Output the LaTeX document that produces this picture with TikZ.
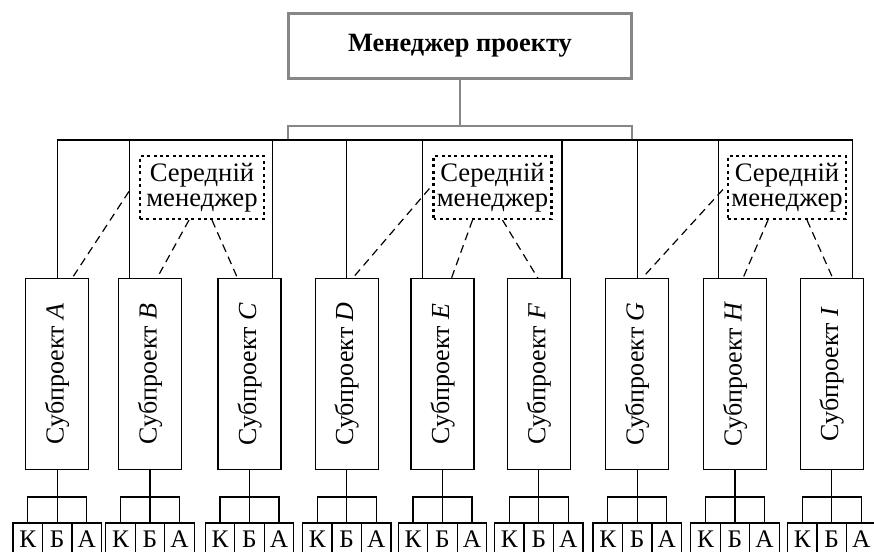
\documentclass[tikz,border=0pt]{standalone}
\usepackage{fontspec}
\setmainfont{Liberation Serif}
\usepackage{xcolor}
\usepackage{graphicx}
\usepackage{tikz}
\usetikzlibrary{calc}
\usetikzlibrary{positioning}
\tikzset{>=latex}
\definecolor{pmgrey}{RGB}{135,135,135}
\tikzstyle{wire} = [-, line width = 0.9pt, black]
\tikzstyle{greyline} = [-, line width = 2.2pt, pmgrey]
\tikzstyle{dashline} = [-, line width = 0.9pt, dash pattern = on 6pt off 4pt]
\tikzstyle{bossbox} = [rectangle, draw = pmgrey, line width = 2.2pt, minimum width = 257pt, minimum height = 48.75pt, font = \fontsize{19.8}{20}\selectfont\bfseries]
\tikzstyle{subbox} = [rectangle, draw = black, line width = 0.9pt, minimum width = 47.3pt, minimum height = 143pt, inner sep = 0, font = \fontsize{19.5}{20}\selectfont]
\tikzstyle{midbox} = [rectangle, draw = black, line width = 1.6pt, dash pattern = on 2.2pt off 2.6pt, minimum width = 88.5pt, minimum height = 47.25pt, inner sep = 1, align = center, font = \fontsize{20}{18.5}\selectfont]
\tikzstyle{cellbox} = [rectangle, draw = black, line width = 0.9pt, minimum width = 22.1pt, minimum height = 24pt, inner sep = 0, outer sep = 0, font = \fontsize{19}{20}\selectfont]

\begin{document}
\begin{tikzpicture}[x = 0.75pt, y = -0.75pt]
\useasboundingbox (0, 0) rectangle (874, 551);
\clip (0, 0) rectangle (874, 551);
\node [bossbox] (PM) at (460, 46) {Менеджер проекту};
\node [subbox] (sA) at (57.2, 374) {\rotatebox{90}{Субпроект \textit{A}}};
\node [subbox] (sB) at (150, 374) {\rotatebox{90}{Субпроект \textit{B}}};
\node [subbox] (sC) at (249.5, 374) {\rotatebox{90}{Субпроект \textit{C}}};
\node [subbox] (sD) at (346.7, 374) {\rotatebox{90}{Субпроект \textit{D}}};
\node [subbox] (sE) at (442.5, 374) {\rotatebox{90}{Субпроект \textit{E}}};
\node [subbox] (sF) at (538.8, 374) {\rotatebox{90}{Субпроект \textit{F}}};
\node [subbox] (sG) at (637.2, 374) {\rotatebox{90}{Субпроект \textit{G}}};
\node [subbox] (sH) at (735, 374) {\rotatebox{90}{Субпроект \textit{H}}};
\node [subbox] (sI) at (831.7, 374) {\rotatebox{90}{Субпроект \textit{I}}};
\node [midbox, minimum width = 93pt] (M1) at (202, 187.5) {Середній\\менеджер};
\node [midbox] (M2) at (492.5, 187.5) {Середній\\менеджер};
\node [midbox] (M3) at (787, 187.5) {Середній\\менеджер};
\coordinate (busL) at (57.2, 140);
\coordinate (busR) at (853, 140);
\coordinate (gL) at (288, 126);
\coordinate (gR) at (632, 126);
% top manager to the bus
\draw [greyline] (PM.south) -- (PM.south |- gL);
\draw [greyline] (gL |- busL) -- (gL) -- (gR) -- (gR |- busL);
\draw [wire] (busL) -- (busR);
\draw [wire] (sA.north) -- (sA.north |- busL);
\draw [wire] ($(sB.north west)+(12,0)$) -- ($(sB.north west |- busL)+(12,0)$);
\draw [wire] ($(sC.north east)+(-9,0)$) -- ($(sC.north east |- busL)+(-9,0)$);
\draw [wire] (sD.north) -- (sD.north |- busL);
\draw [wire] ($(sE.north west)+(12,0)$) -- ($(sE.north west |- busL)+(12,0)$);
\draw [wire] ($(sF.north east)+(-9,0)$) -- ($(sF.north east |- busL)+(-9,0)$);
\draw [wire] (sG.north) -- (sG.north |- busL);
\draw [wire] ($(sH.north west)+(16,0)$) -- ($(sH.north west |- busL)+(16,0)$);
\draw [wire] ($(sI.north east)+(-11,0)$) -- ($(sI.north east |- busL)+(-11,0)$);
% middle managers
\draw [dashline] ($(M1.west)+(-10,4)$) -- ($(sA.north)+(15,0)$);
\draw [dashline] ($(M1.south)+(-13,0)$) -- ($(sB.north)+(7,0)$);
\draw [dashline] ($(M1.south)+(10,0)$) -- ($(sC.north)+(-12,0)$);
\draw [dashline] ($(M2.west)+(-3,1)$) -- ($(sD.north)+(6,0)$);
\draw [dashline] ($(M2.south)+(-20,0)$) -- ($(sE.north)+(9,0)$);
\draw [dashline] ($(M2.south)+(10,0)$) -- ($(sF.north)+(-1,0)$);
\draw [dashline] ($(M3.west)+(-4,2)$) -- ($(sG.north)+(5,0)$);
\draw [dashline] ($(M3.south)+(-19,0)$) -- ($(sH.north)+(8,0)$);
\draw [dashline] ($(M3.south)+(20,0)$) -- ($(sI.north)+(1,0)$);
% K B A under every subproject
\foreach \s in {A,B,C,D,E,F,G,H,I} {
  \node [cellbox] (b\s) at ($(s\s.south)+(0,69)$) {Б};
  \node [cellbox, left = 0pt of b\s] (k\s) {К};
  \node [cellbox, right = 0pt of b\s] (a\s) {А};
  \draw [wire] (s\s.south) -- (b\s.north);
  \draw [wire] (k\s.north) -- ++(0,-26) -| (a\s.north);
}
\end{tikzpicture}
\end{document}
